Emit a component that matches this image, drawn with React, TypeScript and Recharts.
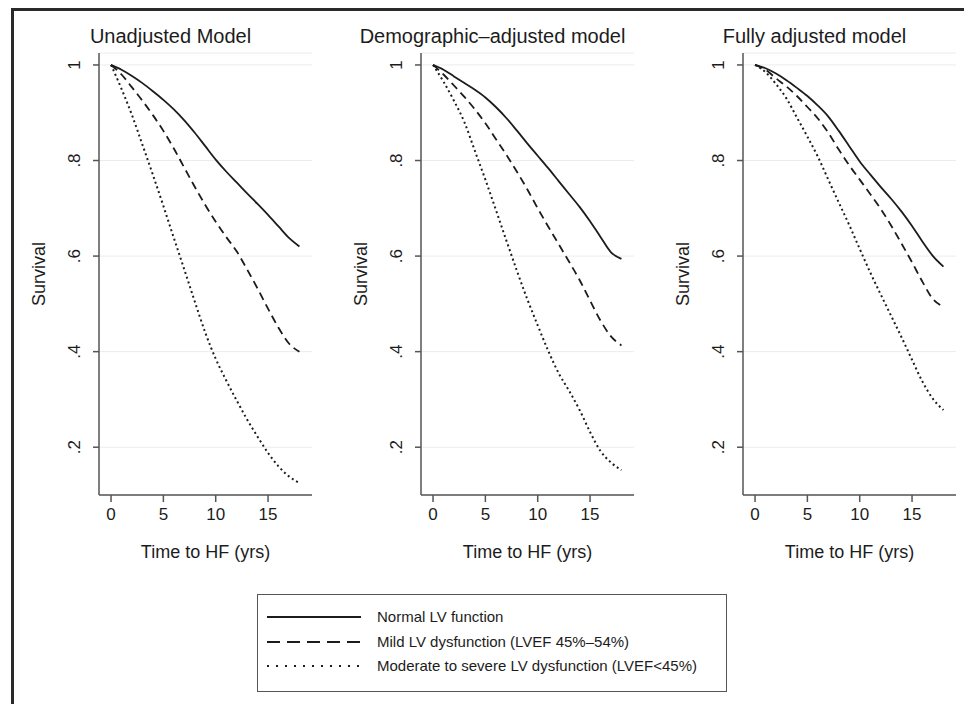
import React from 'react';
import { LineChart, Line, XAxis, YAxis, CartesianGrid, Label } from 'recharts';

// follow-up time (years)
const years = [0, 1, 2, 3, 4, 5, 6, 7, 8, 9, 10, 11, 12, 13, 14, 15, 16, 17, 18];

const xTicks = [0, 5, 10, 15];
const yTicks = [0.2, 0.4, 0.6, 0.8, 1];
const yTickLabels = ['.2', '.4', '.6', '.8', '1'];

const panelTitles = ['Unadjusted Model', 'Demographic\u2013adjusted model', 'Fully adjusted model'];
const xTitle = 'Time to HF (yrs)';
const yTitle = 'Survival';

const legendLabels = [
  'Normal LV function',
  'Mild LV dysfunction (LVEF 45%\u201354%)',
  'Moderate to severe LV dysfunction (LVEF<45%)',
];

// Unadjusted model
const unadjNormal = [1.0, 0.99, 0.977, 0.962, 0.945, 0.927, 0.907, 0.884, 0.858, 0.83, 0.802, 0.777, 0.754, 0.731, 0.709, 0.686, 0.662, 0.638, 0.62];
const unadjMild = [1.0, 0.98, 0.953, 0.925, 0.895, 0.862, 0.825, 0.785, 0.745, 0.707, 0.672, 0.64, 0.61, 0.572, 0.532, 0.49, 0.45, 0.417, 0.4];
const unadjSevere = [1.0, 0.95, 0.895, 0.833, 0.77, 0.705, 0.638, 0.572, 0.505, 0.44, 0.385, 0.34, 0.298, 0.258, 0.222, 0.188, 0.16, 0.139, 0.125];

// Demographic-adjusted model
const demoNormal = [1.0, 0.99, 0.976, 0.962, 0.948, 0.932, 0.912, 0.889, 0.863, 0.836, 0.81, 0.784, 0.757, 0.73, 0.703, 0.673, 0.64, 0.608, 0.594];
const demoMild = [1.0, 0.98, 0.957, 0.933, 0.907, 0.878, 0.845, 0.812, 0.777, 0.74, 0.7, 0.662, 0.625, 0.588, 0.55, 0.507, 0.465, 0.432, 0.413];
const demoSevere = [1.0, 0.965, 0.925, 0.88, 0.82, 0.76, 0.697, 0.633, 0.57, 0.51, 0.455, 0.402, 0.355, 0.318, 0.278, 0.232, 0.192, 0.168, 0.152];

// Fully adjusted model
const fullNormal = [1.0, 0.993, 0.982, 0.968, 0.952, 0.935, 0.915, 0.892, 0.862, 0.83, 0.798, 0.771, 0.745, 0.72, 0.693, 0.663, 0.63, 0.6, 0.578];
const fullMild = [1.0, 0.99, 0.972, 0.955, 0.935, 0.912, 0.888, 0.858, 0.823, 0.79, 0.76, 0.73, 0.699, 0.664, 0.626, 0.587, 0.546, 0.51, 0.494];
const fullSevere = [1.0, 0.985, 0.96, 0.93, 0.89, 0.85, 0.808, 0.76, 0.712, 0.665, 0.615, 0.566, 0.52, 0.475, 0.43, 0.383, 0.337, 0.301, 0.278];

const FONT = '"Liberation Sans", Arial, Helvetica, sans-serif';
const INK = '#1c1c1c';
const AXIS = '#555';

const buildRows = (normal: number[], mild: number[], severe: number[]) =>
  years.map((t, i) => ({ t, normal: normal[i], mild: mild[i], severe: severe[i] }));

const panels = [
  { title: panelTitles[0], data: buildRows(unadjNormal, unadjMild, unadjSevere), left: 0, width: 322, right: 10 },
  { title: panelTitles[1], data: buildRows(demoNormal, demoMild, demoSevere), left: 322, width: 322, right: 10 },
  { title: panelTitles[2], data: buildRows(fullNormal, fullMild, fullSevere), left: 644, width: 320, right: 8 },
];

const Y_AXIS_W = 99;
const PLOT_TOP = 53;
const CHART_H = 600;
const X_AXIS_H = 70;
const PLOT_BOTTOM = 495;

const XTick = (props: any) => {
  const { x, y, payload } = props;
  return (
    <text x={x} y={y} dy={17} textAnchor="middle" fontSize={17} fontFamily={FONT} fill={INK}>
      {payload.value}
    </text>
  );
};

const YTick = (props: any) => {
  const { x, y, payload } = props;
  const idx = yTicks.indexOf(payload.value);
  const bx = x - 11;
  return (
    <text x={bx} y={y} transform={`rotate(-90 ${bx} ${y})`} textAnchor="middle" fontSize={17} fontFamily={FONT} fill={INK}>
      {idx >= 0 ? yTickLabels[idx] : payload.value}
    </text>
  );
};

const XTitle = (props: any) => {
  const vb = props.viewBox || {};
  const cx = (vb.x ?? Y_AXIS_W) + (vb.width ?? 213) / 2;
  return (
    <text x={cx} y={PLOT_BOTTOM + 63} textAnchor="middle" fontSize={18} fontFamily={FONT} fill={INK}>
      {xTitle}
    </text>
  );
};

const YTitle = () => {
  const bx = 45;
  const cy = (PLOT_TOP + PLOT_BOTTOM) / 2;
  return (
    <text x={bx} y={cy} transform={`rotate(-90 ${bx} ${cy})`} textAnchor="middle" fontSize={18} fontFamily={FONT} fill={INK}>
      {yTitle}
    </text>
  );
};

const Panel = ({ title, data, left, width, right }: any) => {
  const plotCenter = left + Y_AXIS_W + (width - Y_AXIS_W - right) / 2;
  return (
    <>
      <div
        style={{
          position: 'absolute',
          left: plotCenter - 35 - 160,
          width: 320,
          top: 26,
          textAlign: 'center',
          fontSize: 20,
          lineHeight: '20px',
          fontFamily: FONT,
          color: INK,
          whiteSpace: 'nowrap',
        }}
      >
        {title}
      </div>
      <div style={{ position: 'absolute', left, top: 0 }}>
        <LineChart
          width={width}
          height={CHART_H}
          data={data}
          margin={{ top: PLOT_TOP, right, bottom: CHART_H - PLOT_BOTTOM - X_AXIS_H, left: 0 }}
        >
          <CartesianGrid vertical={false} stroke="#ececec" strokeWidth={1} />
          <XAxis
            dataKey="t"
            type="number"
            domain={[-1.15, 19.2]}
            ticks={xTicks}
            allowDataOverflow
            height={X_AXIS_H}
            tickSize={7}
            tickMargin={1}
            stroke={AXIS}
            strokeWidth={1.5}
            tick={<XTick />}
          >
            <Label content={<XTitle />} />
          </XAxis>
          <YAxis
            type="number"
            domain={[0.1, 1.025]}
            ticks={yTicks}
            allowDataOverflow
            width={Y_AXIS_W}
            tickSize={6}
            tickMargin={2}
            stroke={AXIS}
            strokeWidth={1.5}
            tick={<YTick />}
          >
            <Label content={<YTitle />} />
          </YAxis>
          <Line type="monotone" dataKey="normal" stroke={INK} strokeWidth={1.8} dot={false} isAnimationActive={false} />
          <Line type="monotone" dataKey="mild" stroke={INK} strokeWidth={1.8} strokeDasharray="8 5" dot={false} isAnimationActive={false} />
          <Line type="monotone" dataKey="severe" stroke={INK} strokeWidth={2} strokeDasharray="2 3" dot={false} isAnimationActive={false} />
        </LineChart>
      </div>
    </>
  );
};

const legendDashes = ['', '13 7', '2 7'];
const legendRowsY = [22, 47, 71];

export default function App() {
  return (
    <div
      style={{
        position: 'absolute',
        left: 0,
        top: 0,
        width: 964,
        height: 704,
        overflow: 'hidden',
        background: '#fff',
        fontFamily: FONT,
      }}
    >
      <div
        style={{
          position: 'absolute',
          left: 11,
          top: 8,
          width: 970,
          height: 710,
          borderTop: '3px solid #2a2a2a',
          borderLeft: '3px solid #2a2a2a',
        }}
      />
      {panels.map((p) => (
        <Panel key={p.title} {...p} />
      ))}
      <div
        style={{
          position: 'absolute',
          left: 257,
          top: 594,
          width: 468,
          height: 96,
          border: '1.5px solid #555',
        }}
      >
        {legendLabels.map((lab, i) => (
          <React.Fragment key={lab}>
            <svg
              width={94}
              height={10}
              style={{ position: 'absolute', left: 9, top: legendRowsY[i] - 5 }}
            >
              <line
                x1={0}
                y1={5}
                x2={94}
                y2={5}
                stroke={INK}
                strokeWidth={i === 2 ? 2 : 1.8}
                strokeDasharray={legendDashes[i] || undefined}
              />
            </svg>
            <div
              style={{
                position: 'absolute',
                left: 119,
                top: legendRowsY[i] - 9,
                fontSize: 15,
                lineHeight: '18px',
                color: INK,
                whiteSpace: 'nowrap',
              }}
            >
              {lab}
            </div>
          </React.Fragment>
        ))}
      </div>
    </div>
  );
}
